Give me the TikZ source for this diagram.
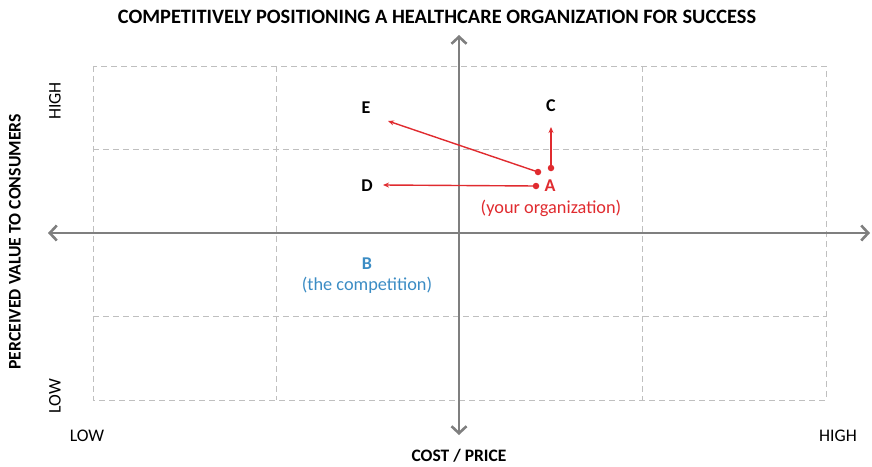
\documentclass[tikz,border=0pt]{standalone}
\usepackage{fontspec}
\setmainfont{Carlito}
\usetikzlibrary{arrows.meta}
\definecolor{axisgray}{HTML}{7F7F7F}
\definecolor{gridgray}{HTML}{BFBFBF}
\definecolor{orgred}{HTML}{E02B2F}
\definecolor{compblue}{HTML}{3B8CC4}
\begin{document}
\begin{tikzpicture}[x=1pt,y=-1pt,
  gridline/.style={color=gridgray,dash pattern=on 6pt off 4pt,line width=1pt},
  axis/.style={color=axisgray,line width=2.6pt,
    {Straight Barb[length=7pt,width=15pt,line width=2.6pt]}-{Straight Barb[length=7pt,width=15pt,line width=2.6pt]}},
  move/.style={color=orgred,line width=1.4pt,-{Stealth[length=6pt,width=5pt]}},
  spot/.style={circle,fill=orgred,inner sep=0pt,minimum size=6.5pt},
  letter/.style={font=\bfseries\fontsize{18}{20}\selectfont},
  note/.style={font=\fontsize{18.3}{20}\selectfont},
  side/.style={font=\fontsize{17.7}{20}\selectfont}]
\useasboundingbox (0,0) rectangle (872,466);
% dashed 4x4 grid
\draw[gridline] (93,66) rectangle (826,400);
\foreach \x in {276,642} \draw[gridline] (\x,66)--(\x,400);
\foreach \y in {149,316} \draw[gridline] (93,\y)--(826,\y);
% axes
\coordinate (west) at (48,233);
\coordinate (east) at (870,233);
\coordinate (north) at (459,35);
\coordinate (south) at (459,435);
\draw[axis] (west)--(east);
\draw[axis] (north)--(south);
% axis labels
\node[font=\bfseries\fontsize{20.4}{22}\selectfont] (title) at (437,17) {COMPETITIVELY POSITIONING A HEALTHCARE ORGANIZATION FOR SUCCESS};
\node[font=\bfseries\fontsize{17.5}{20}\selectfont] (xlabel) at (459,456) {COST / PRICE};
\node[side] (xlow) at (87,436) {LOW};
\node[side] (xhigh) at (838,436) {HIGH};
\node[rotate=90,font=\bfseries\fontsize{17.7}{20}\selectfont] (ylabel) at (15,242) {PERCEIVED VALUE TO CONSUMERS};
\node[rotate=90,side] (yhigh) at (55,101) {HIGH};
\node[rotate=90,side] (ylow) at (55,396) {LOW};
% positions
\node[letter] (E) at (366,108) {E};
\node[letter] (C) at (551,106) {C};
\node[letter] (D) at (367,186) {D};
\node[letter,orgred] (A) at (550,186) {A};
\node[note,orgred] (org) at (551,208) {(your organization)};
\node[letter,compblue] (B) at (367,264) {B};
\node[note,compblue] (comp) at (367,285) {(the competition)};
% moves away from A
\node[spot] (dotA) at (536,186) {};
\node[spot] (dotE) at (538,172) {};
\node[spot] (dotC) at (551,168) {};
\coordinate (tipE) at (388,121);
\coordinate (tipC) at (551,127);
\coordinate (tipD) at (383,185);
\draw[move] (dotA.center)--(tipD);
\draw[move] (dotE.center)--(tipE);
\draw[move] (dotC.center)--(tipC);
\end{tikzpicture}
\end{document}
